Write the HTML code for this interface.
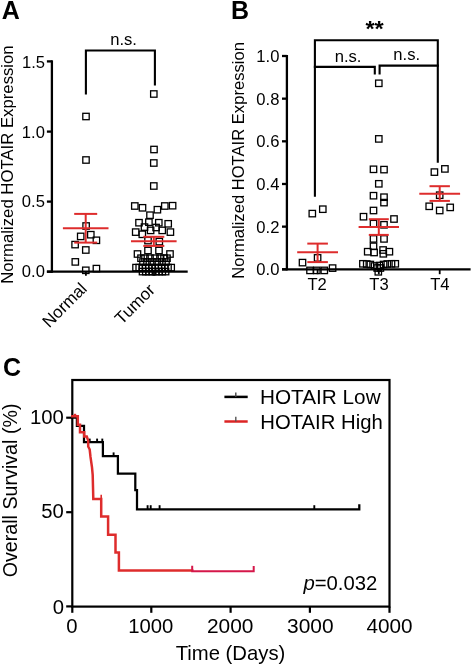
<!DOCTYPE html>
<html><head><meta charset="utf-8"><style>
html,body{margin:0;padding:0;background:#fff;}
svg{display:block;will-change:transform;}
text{font-family:"Liberation Sans", sans-serif;fill:#000;}
</style></head><body>
<svg width="472" height="666" viewBox="0 0 472 666">
<rect width="472" height="666" fill="#fff"/>
<text transform="translate(1.65,19.3) rotate(0) scale(1.0,1.04)" font-size="25" font-weight="bold" font-style="normal">A</text>
<text transform="translate(12.9,283.85) rotate(-90) scale(1.008,1.0)" font-size="16.6" font-weight="normal" font-style="normal">Normalized HOTAIR Expression</text>
<text transform="translate(21.9,67.55) rotate(0) scale(1.0,1.0)" font-size="16.6" font-weight="normal" font-style="normal">1.5</text>
<text transform="translate(21.8,137.75) rotate(0) scale(1.0,1.0)" font-size="16.6" font-weight="normal" font-style="normal">1.0</text>
<text transform="translate(21.85,207.05) rotate(0) scale(1.0,1.0)" font-size="16.6" font-weight="normal" font-style="normal">0.5</text>
<text transform="translate(21.85,277.05) rotate(0) scale(1.0,1.0)" font-size="16.6" font-weight="normal" font-style="normal">0.0</text>
<line x1="51.90" y1="60.30" x2="51.90" y2="272.80" stroke="#000" stroke-width="2.3"/>
<line x1="46.90" y1="271.70" x2="51.90" y2="271.70" stroke="#000" stroke-width="2.3"/>
<line x1="46.90" y1="201.60" x2="51.90" y2="201.60" stroke="#000" stroke-width="2.3"/>
<line x1="46.90" y1="131.60" x2="51.90" y2="131.60" stroke="#000" stroke-width="2.3"/>
<line x1="46.90" y1="61.40" x2="51.90" y2="61.40" stroke="#000" stroke-width="2.3"/>
<line x1="46.90" y1="271.70" x2="187.70" y2="271.70" stroke="#000" stroke-width="2.3"/>
<line x1="85.90" y1="271.70" x2="85.90" y2="275.80" stroke="#000" stroke-width="1.8"/>
<line x1="154.00" y1="271.70" x2="154.00" y2="275.80" stroke="#000" stroke-width="1.8"/>
<text transform="translate(87.9,289.7) rotate(-45)" font-size="17" text-anchor="end">Normal</text>
<text transform="translate(156,291) rotate(-45)" font-size="17" text-anchor="end">Tumor</text>
<path d="M85.9,93.5 V50.5 H154.9 V84.5" fill="none" stroke="#000" stroke-width="2.1" stroke-linejoin="miter" stroke-linecap="square"/>
<text transform="translate(110.15,45.35) rotate(0) scale(1.0,1.0)" font-size="16.6" font-weight="normal" font-style="normal">n.s.</text>
<rect x="82.80" y="113.30" width="6.4" height="6.4" fill="none" stroke="#000" stroke-width="1.3"/>
<rect x="82.80" y="156.80" width="6.4" height="6.4" fill="none" stroke="#000" stroke-width="1.3"/>
<rect x="82.90" y="222.80" width="6.4" height="6.4" fill="none" stroke="#000" stroke-width="1.3"/>
<rect x="77.50" y="233.20" width="6.4" height="6.4" fill="none" stroke="#000" stroke-width="1.3"/>
<rect x="87.60" y="231.50" width="6.4" height="6.4" fill="none" stroke="#000" stroke-width="1.3"/>
<rect x="93.20" y="237.10" width="6.4" height="6.4" fill="none" stroke="#000" stroke-width="1.3"/>
<rect x="71.90" y="241.40" width="6.4" height="6.4" fill="none" stroke="#000" stroke-width="1.3"/>
<rect x="82.60" y="246.80" width="6.4" height="6.4" fill="none" stroke="#000" stroke-width="1.3"/>
<rect x="72.10" y="258.70" width="6.4" height="6.4" fill="none" stroke="#000" stroke-width="1.3"/>
<rect x="82.60" y="267.10" width="6.4" height="6.4" fill="none" stroke="#000" stroke-width="1.3"/>
<rect x="93.20" y="265.40" width="6.4" height="6.4" fill="none" stroke="#000" stroke-width="1.3"/>
<rect x="150.60" y="90.80" width="6.4" height="6.4" fill="none" stroke="#000" stroke-width="1.3"/>
<rect x="150.80" y="146.30" width="6.4" height="6.4" fill="none" stroke="#000" stroke-width="1.3"/>
<rect x="150.60" y="159.80" width="6.4" height="6.4" fill="none" stroke="#000" stroke-width="1.3"/>
<rect x="150.60" y="182.80" width="6.4" height="6.4" fill="none" stroke="#000" stroke-width="1.3"/>
<rect x="131.60" y="202.80" width="6.4" height="6.4" fill="none" stroke="#000" stroke-width="1.3"/>
<rect x="139.30" y="204.60" width="6.4" height="6.4" fill="none" stroke="#000" stroke-width="1.3"/>
<rect x="146.80" y="212.00" width="6.4" height="6.4" fill="none" stroke="#000" stroke-width="1.3"/>
<rect x="154.20" y="206.50" width="6.4" height="6.4" fill="none" stroke="#000" stroke-width="1.3"/>
<rect x="161.60" y="202.80" width="6.4" height="6.4" fill="none" stroke="#000" stroke-width="1.3"/>
<rect x="169.40" y="202.50" width="6.4" height="6.4" fill="none" stroke="#000" stroke-width="1.3"/>
<rect x="135.80" y="219.50" width="6.4" height="6.4" fill="none" stroke="#000" stroke-width="1.3"/>
<rect x="145.70" y="219.00" width="6.4" height="6.4" fill="none" stroke="#000" stroke-width="1.3"/>
<rect x="155.60" y="219.50" width="6.4" height="6.4" fill="none" stroke="#000" stroke-width="1.3"/>
<rect x="165.00" y="220.60" width="6.4" height="6.4" fill="none" stroke="#000" stroke-width="1.3"/>
<rect x="141.30" y="223.90" width="6.4" height="6.4" fill="none" stroke="#000" stroke-width="1.3"/>
<rect x="152.90" y="224.30" width="6.4" height="6.4" fill="none" stroke="#000" stroke-width="1.3"/>
<rect x="132.50" y="228.90" width="6.4" height="6.4" fill="none" stroke="#000" stroke-width="1.3"/>
<rect x="139.10" y="231.10" width="6.4" height="6.4" fill="none" stroke="#000" stroke-width="1.3"/>
<rect x="147.40" y="227.20" width="6.4" height="6.4" fill="none" stroke="#000" stroke-width="1.3"/>
<rect x="159.00" y="227.20" width="6.4" height="6.4" fill="none" stroke="#000" stroke-width="1.3"/>
<rect x="167.20" y="228.90" width="6.4" height="6.4" fill="none" stroke="#000" stroke-width="1.3"/>
<rect x="144.80" y="237.40" width="6.4" height="6.4" fill="none" stroke="#000" stroke-width="1.3"/>
<rect x="156.10" y="238.40" width="6.4" height="6.4" fill="none" stroke="#000" stroke-width="1.3"/>
<rect x="144.80" y="247.30" width="6.4" height="6.4" fill="none" stroke="#000" stroke-width="1.3"/>
<rect x="155.80" y="247.30" width="6.4" height="6.4" fill="none" stroke="#000" stroke-width="1.3"/>
<rect x="134.30" y="250.80" width="6.4" height="6.4" fill="none" stroke="#000" stroke-width="1.3"/>
<rect x="166.80" y="250.80" width="6.4" height="6.4" fill="none" stroke="#000" stroke-width="1.3"/>
<rect x="137.80" y="255.00" width="6.4" height="6.4" fill="none" stroke="#000" stroke-width="1.3"/>
<rect x="141.80" y="255.00" width="6.4" height="6.4" fill="none" stroke="#000" stroke-width="1.3"/>
<rect x="146.80" y="255.00" width="6.4" height="6.4" fill="none" stroke="#000" stroke-width="1.3"/>
<rect x="151.80" y="255.00" width="6.4" height="6.4" fill="none" stroke="#000" stroke-width="1.3"/>
<rect x="156.80" y="255.00" width="6.4" height="6.4" fill="none" stroke="#000" stroke-width="1.3"/>
<rect x="160.80" y="255.00" width="6.4" height="6.4" fill="none" stroke="#000" stroke-width="1.3"/>
<rect x="163.80" y="255.00" width="6.4" height="6.4" fill="none" stroke="#000" stroke-width="1.3"/>
<rect x="139.80" y="258.80" width="6.4" height="6.4" fill="none" stroke="#000" stroke-width="1.3"/>
<rect x="143.80" y="258.80" width="6.4" height="6.4" fill="none" stroke="#000" stroke-width="1.3"/>
<rect x="148.80" y="258.80" width="6.4" height="6.4" fill="none" stroke="#000" stroke-width="1.3"/>
<rect x="153.80" y="258.80" width="6.4" height="6.4" fill="none" stroke="#000" stroke-width="1.3"/>
<rect x="158.80" y="258.80" width="6.4" height="6.4" fill="none" stroke="#000" stroke-width="1.3"/>
<rect x="162.80" y="258.80" width="6.4" height="6.4" fill="none" stroke="#000" stroke-width="1.3"/>
<rect x="132.80" y="264.40" width="6.4" height="6.4" fill="none" stroke="#000" stroke-width="1.3"/>
<rect x="136.00" y="264.40" width="6.4" height="6.4" fill="none" stroke="#000" stroke-width="1.3"/>
<rect x="139.20" y="264.40" width="6.4" height="6.4" fill="none" stroke="#000" stroke-width="1.3"/>
<rect x="142.40" y="264.40" width="6.4" height="6.4" fill="none" stroke="#000" stroke-width="1.3"/>
<rect x="145.60" y="264.40" width="6.4" height="6.4" fill="none" stroke="#000" stroke-width="1.3"/>
<rect x="148.80" y="264.40" width="6.4" height="6.4" fill="none" stroke="#000" stroke-width="1.3"/>
<rect x="152.00" y="264.40" width="6.4" height="6.4" fill="none" stroke="#000" stroke-width="1.3"/>
<rect x="155.20" y="264.40" width="6.4" height="6.4" fill="none" stroke="#000" stroke-width="1.3"/>
<rect x="158.40" y="264.40" width="6.4" height="6.4" fill="none" stroke="#000" stroke-width="1.3"/>
<rect x="161.60" y="264.40" width="6.4" height="6.4" fill="none" stroke="#000" stroke-width="1.3"/>
<rect x="164.80" y="264.40" width="6.4" height="6.4" fill="none" stroke="#000" stroke-width="1.3"/>
<rect x="168.00" y="264.40" width="6.4" height="6.4" fill="none" stroke="#000" stroke-width="1.3"/>
<rect x="139.30" y="268.40" width="6.4" height="6.4" fill="none" stroke="#000" stroke-width="1.3"/>
<rect x="142.60" y="268.40" width="6.4" height="6.4" fill="none" stroke="#000" stroke-width="1.3"/>
<rect x="145.90" y="268.40" width="6.4" height="6.4" fill="none" stroke="#000" stroke-width="1.3"/>
<rect x="149.20" y="268.40" width="6.4" height="6.4" fill="none" stroke="#000" stroke-width="1.3"/>
<rect x="152.50" y="268.40" width="6.4" height="6.4" fill="none" stroke="#000" stroke-width="1.3"/>
<rect x="155.80" y="268.40" width="6.4" height="6.4" fill="none" stroke="#000" stroke-width="1.3"/>
<rect x="159.10" y="268.40" width="6.4" height="6.4" fill="none" stroke="#000" stroke-width="1.3"/>
<rect x="162.40" y="268.40" width="6.4" height="6.4" fill="none" stroke="#000" stroke-width="1.3"/>
<line x1="62.90" y1="228.30" x2="108.50" y2="228.30" stroke="#de2c2c" stroke-width="2"/>
<line x1="74.20" y1="213.90" x2="97.20" y2="213.90" stroke="#de2c2c" stroke-width="2"/>
<line x1="74.20" y1="242.60" x2="97.20" y2="242.60" stroke="#de2c2c" stroke-width="2"/>
<line x1="85.70" y1="213.90" x2="85.70" y2="242.60" stroke="#de2c2c" stroke-width="2"/>
<line x1="131.00" y1="241.30" x2="176.60" y2="241.30" stroke="#de2c2c" stroke-width="2"/>
<line x1="143.30" y1="236.80" x2="164.30" y2="236.80" stroke="#de2c2c" stroke-width="2"/>
<line x1="143.30" y1="245.90" x2="164.30" y2="245.90" stroke="#de2c2c" stroke-width="2"/>
<line x1="153.80" y1="236.80" x2="153.80" y2="245.90" stroke="#de2c2c" stroke-width="2"/>
<text transform="translate(230.9,19.3) rotate(0) scale(1.0,1.04)" font-size="25" font-weight="bold" font-style="normal">B</text>
<text transform="translate(244.3,278.8) rotate(-90) scale(1.0,1.0)" font-size="16.6" font-weight="normal" font-style="normal">Normalized HOTAIR Expression</text>
<line x1="286.90" y1="55.00" x2="286.90" y2="270.40" stroke="#000" stroke-width="2.3"/>
<line x1="282.00" y1="269.30" x2="286.90" y2="269.30" stroke="#000" stroke-width="2.3"/>
<line x1="282.00" y1="226.64" x2="286.90" y2="226.64" stroke="#000" stroke-width="2.3"/>
<line x1="282.00" y1="183.98" x2="286.90" y2="183.98" stroke="#000" stroke-width="2.3"/>
<line x1="282.00" y1="141.32" x2="286.90" y2="141.32" stroke="#000" stroke-width="2.3"/>
<line x1="282.00" y1="98.66" x2="286.90" y2="98.66" stroke="#000" stroke-width="2.3"/>
<line x1="282.00" y1="56.00" x2="286.90" y2="56.00" stroke="#000" stroke-width="2.3"/>
<line x1="282.00" y1="269.30" x2="470.60" y2="269.30" stroke="#000" stroke-width="2.3"/>
<text transform="translate(279.4,275.30)" font-size="16.6" text-anchor="end">0.0</text>
<text transform="translate(279.4,232.64)" font-size="16.6" text-anchor="end">0.2</text>
<text transform="translate(279.4,189.98)" font-size="16.6" text-anchor="end">0.4</text>
<text transform="translate(279.4,147.32)" font-size="16.6" text-anchor="end">0.6</text>
<text transform="translate(279.4,104.66)" font-size="16.6" text-anchor="end">0.8</text>
<text transform="translate(279.4,62.00)" font-size="16.6" text-anchor="end">1.0</text>
<line x1="317.60" y1="269.30" x2="317.60" y2="274.20" stroke="#000" stroke-width="1.8"/>
<line x1="378.80" y1="269.30" x2="378.80" y2="274.20" stroke="#000" stroke-width="1.8"/>
<line x1="439.70" y1="269.30" x2="439.70" y2="274.20" stroke="#000" stroke-width="1.8"/>
<text transform="translate(307.45,289.75) rotate(0) scale(1.0,1.0)" font-size="16.6" font-weight="normal" font-style="normal">T2</text>
<text transform="translate(369.25,289.75) rotate(0) scale(1.0,1.0)" font-size="16.6" font-weight="normal" font-style="normal">T3</text>
<text transform="translate(430.2,289.75) rotate(0) scale(1.0,1.0)" font-size="16.6" font-weight="normal" font-style="normal">T4</text>
<path d="M314.9,195.7 V40.2 H437.8 V161.6" fill="none" stroke="#000" stroke-width="2.1" stroke-linejoin="miter" stroke-linecap="square"/>
<path d="M314.9,66.9 H374.8 V73.4" fill="none" stroke="#000" stroke-width="2.1" stroke-linejoin="miter" stroke-linecap="square"/>
<path d="M379.6,73.4 V65.6 H437.8" fill="none" stroke="#000" stroke-width="2.1" stroke-linejoin="miter" stroke-linecap="square"/>
<text transform="translate(365.4,36.0) rotate(0) scale(1.07,1.0)" font-size="22" font-weight="bold" font-style="normal">**</text>
<text transform="translate(334.7,62.3) rotate(0) scale(1.0,1.0)" font-size="16.6" font-weight="normal" font-style="normal">n.s.</text>
<text transform="translate(393.3,60.35) rotate(0) scale(1.0,1.0)" font-size="16.6" font-weight="normal" font-style="normal">n.s.</text>
<rect x="309.10" y="210.40" width="6.4" height="6.4" fill="none" stroke="#000" stroke-width="1.3"/>
<rect x="319.60" y="206.00" width="6.4" height="6.4" fill="none" stroke="#000" stroke-width="1.3"/>
<rect x="314.40" y="254.70" width="6.4" height="6.4" fill="none" stroke="#000" stroke-width="1.3"/>
<rect x="299.30" y="259.40" width="6.4" height="6.4" fill="none" stroke="#000" stroke-width="1.3"/>
<rect x="306.80" y="267.20" width="6.4" height="6.4" fill="none" stroke="#000" stroke-width="1.3"/>
<rect x="313.60" y="267.20" width="6.4" height="6.4" fill="none" stroke="#000" stroke-width="1.3"/>
<rect x="321.10" y="267.20" width="6.4" height="6.4" fill="none" stroke="#000" stroke-width="1.3"/>
<rect x="329.40" y="264.90" width="6.4" height="6.4" fill="none" stroke="#000" stroke-width="1.3"/>
<rect x="375.60" y="80.10" width="6.4" height="6.4" fill="none" stroke="#000" stroke-width="1.3"/>
<rect x="375.60" y="135.70" width="6.4" height="6.4" fill="none" stroke="#000" stroke-width="1.3"/>
<rect x="370.30" y="166.10" width="6.4" height="6.4" fill="none" stroke="#000" stroke-width="1.3"/>
<rect x="380.80" y="166.40" width="6.4" height="6.4" fill="none" stroke="#000" stroke-width="1.3"/>
<rect x="375.60" y="180.60" width="6.4" height="6.4" fill="none" stroke="#000" stroke-width="1.3"/>
<rect x="370.30" y="192.50" width="6.4" height="6.4" fill="none" stroke="#000" stroke-width="1.3"/>
<rect x="380.80" y="194.00" width="6.4" height="6.4" fill="none" stroke="#000" stroke-width="1.3"/>
<rect x="380.80" y="199.40" width="6.4" height="6.4" fill="none" stroke="#000" stroke-width="1.3"/>
<rect x="370.30" y="207.30" width="6.4" height="6.4" fill="none" stroke="#000" stroke-width="1.3"/>
<rect x="360.30" y="213.50" width="6.4" height="6.4" fill="none" stroke="#000" stroke-width="1.3"/>
<rect x="390.80" y="215.80" width="6.4" height="6.4" fill="none" stroke="#000" stroke-width="1.3"/>
<rect x="370.30" y="220.40" width="6.4" height="6.4" fill="none" stroke="#000" stroke-width="1.3"/>
<rect x="380.80" y="221.60" width="6.4" height="6.4" fill="none" stroke="#000" stroke-width="1.3"/>
<rect x="370.30" y="235.70" width="6.4" height="6.4" fill="none" stroke="#000" stroke-width="1.3"/>
<rect x="380.80" y="235.70" width="6.4" height="6.4" fill="none" stroke="#000" stroke-width="1.3"/>
<rect x="370.30" y="243.10" width="6.4" height="6.4" fill="none" stroke="#000" stroke-width="1.3"/>
<rect x="364.50" y="248.50" width="6.4" height="6.4" fill="none" stroke="#000" stroke-width="1.3"/>
<rect x="370.90" y="249.30" width="6.4" height="6.4" fill="none" stroke="#000" stroke-width="1.3"/>
<rect x="379.90" y="246.80" width="6.4" height="6.4" fill="none" stroke="#000" stroke-width="1.3"/>
<rect x="380.10" y="250.60" width="6.4" height="6.4" fill="none" stroke="#000" stroke-width="1.3"/>
<rect x="386.20" y="248.50" width="6.4" height="6.4" fill="none" stroke="#000" stroke-width="1.3"/>
<rect x="359.70" y="260.60" width="6.4" height="6.4" fill="none" stroke="#000" stroke-width="1.3"/>
<rect x="363.50" y="260.80" width="6.4" height="6.4" fill="none" stroke="#000" stroke-width="1.3"/>
<rect x="367.20" y="261.30" width="6.4" height="6.4" fill="none" stroke="#000" stroke-width="1.3"/>
<rect x="371.40" y="262.80" width="6.4" height="6.4" fill="none" stroke="#000" stroke-width="1.3"/>
<rect x="376.20" y="262.30" width="6.4" height="6.4" fill="none" stroke="#000" stroke-width="1.3"/>
<rect x="380.40" y="261.30" width="6.4" height="6.4" fill="none" stroke="#000" stroke-width="1.3"/>
<rect x="384.10" y="260.80" width="6.4" height="6.4" fill="none" stroke="#000" stroke-width="1.3"/>
<rect x="388.30" y="260.60" width="6.4" height="6.4" fill="none" stroke="#000" stroke-width="1.3"/>
<rect x="392.10" y="260.60" width="6.4" height="6.4" fill="none" stroke="#000" stroke-width="1.3"/>
<rect x="374.00" y="264.80" width="6.4" height="6.4" fill="none" stroke="#000" stroke-width="1.3"/>
<rect x="377.20" y="264.80" width="6.4" height="6.4" fill="none" stroke="#000" stroke-width="1.3"/>
<rect x="375.10" y="268.60" width="6.4" height="6.4" fill="none" stroke="#000" stroke-width="1.3"/>
<rect x="431.20" y="168.90" width="6.4" height="6.4" fill="none" stroke="#000" stroke-width="1.3"/>
<rect x="441.70" y="165.70" width="6.4" height="6.4" fill="none" stroke="#000" stroke-width="1.3"/>
<rect x="436.50" y="192.00" width="6.4" height="6.4" fill="none" stroke="#000" stroke-width="1.3"/>
<rect x="426.00" y="203.10" width="6.4" height="6.4" fill="none" stroke="#000" stroke-width="1.3"/>
<rect x="436.50" y="207.30" width="6.4" height="6.4" fill="none" stroke="#000" stroke-width="1.3"/>
<rect x="447.00" y="204.20" width="6.4" height="6.4" fill="none" stroke="#000" stroke-width="1.3"/>
<line x1="297.20" y1="252.30" x2="338.00" y2="252.30" stroke="#de2c2c" stroke-width="2"/>
<line x1="307.30" y1="243.60" x2="327.90" y2="243.60" stroke="#de2c2c" stroke-width="2"/>
<line x1="307.30" y1="262.10" x2="327.90" y2="262.10" stroke="#de2c2c" stroke-width="2"/>
<line x1="317.60" y1="243.60" x2="317.60" y2="262.10" stroke="#de2c2c" stroke-width="2"/>
<line x1="358.60" y1="227.10" x2="399.00" y2="227.10" stroke="#de2c2c" stroke-width="2"/>
<line x1="368.80" y1="219.20" x2="388.80" y2="219.20" stroke="#de2c2c" stroke-width="2"/>
<line x1="368.80" y1="234.90" x2="388.80" y2="234.90" stroke="#de2c2c" stroke-width="2"/>
<line x1="378.80" y1="219.20" x2="378.80" y2="234.90" stroke="#de2c2c" stroke-width="2"/>
<line x1="419.30" y1="193.70" x2="460.10" y2="193.70" stroke="#de2c2c" stroke-width="2"/>
<line x1="429.50" y1="186.20" x2="449.90" y2="186.20" stroke="#de2c2c" stroke-width="2"/>
<line x1="429.50" y1="200.90" x2="449.90" y2="200.90" stroke="#de2c2c" stroke-width="2"/>
<line x1="439.70" y1="186.20" x2="439.70" y2="200.90" stroke="#de2c2c" stroke-width="2"/>
<text transform="translate(3.05,375.6) rotate(0) scale(1.0,1.04)" font-size="25" font-weight="bold" font-style="normal">C</text>
<text transform="translate(17.2,577.35) rotate(-90) scale(0.97,1.0)" font-size="20.3" font-weight="normal" font-style="normal">Overall Survival (%)</text>
<text transform="translate(29.9,423.95) rotate(0) scale(1.0,1.0)" font-size="20.3" font-weight="normal" font-style="normal">100</text>
<text transform="translate(41.15,518.45) rotate(0) scale(1.0,1.0)" font-size="20.3" font-weight="normal" font-style="normal">50</text>
<text transform="translate(52.75,613.6) rotate(0) scale(1.0,1.0)" font-size="20.3" font-weight="normal" font-style="normal">0</text>
<text transform="translate(66.2,632.85) rotate(0) scale(1.0,1.0)" font-size="20.3" font-weight="normal" font-style="normal">0</text>
<text transform="translate(128.25,632.8) rotate(0) scale(1.0,1.0)" font-size="20.3" font-weight="normal" font-style="normal">1000</text>
<text transform="translate(206.95,632.8) rotate(0) scale(1.03,1.0)" font-size="20.3" font-weight="normal" font-style="normal">2000</text>
<text transform="translate(287.05,632.8) rotate(0) scale(1.03,1.0)" font-size="20.3" font-weight="normal" font-style="normal">3000</text>
<text transform="translate(366.45,632.9) rotate(0) scale(1.02,1.0)" font-size="20.3" font-weight="normal" font-style="normal">4000</text>
<text transform="translate(175.65,660.15) rotate(0) scale(1.0,1.0)" font-size="20.3" font-weight="normal" font-style="normal">Time (Days)</text>
<text transform="translate(260.0,403.7) rotate(0) scale(1.022,1.0)" font-size="20.3" font-weight="normal" font-style="normal">HOTAIR Low</text>
<text transform="translate(260.25,428.95) rotate(0) scale(1.0,1.0)" font-size="20.3" font-weight="normal" font-style="normal">HOTAIR High</text>
<text transform="translate(303.4,590.05) rotate(0) scale(1.0,1.0)" font-size="20.3" font-weight="normal" font-style="normal"><tspan font-style="italic">p</tspan>=0.032</text>
<rect x="72.3" y="380.0" width="317.2" height="226.60000000000002" fill="none" stroke="#000" stroke-width="2.2"/>
<line x1="66.20" y1="417.70" x2="72.30" y2="417.70" stroke="#000" stroke-width="2.2"/>
<line x1="66.20" y1="512.20" x2="72.30" y2="512.20" stroke="#000" stroke-width="2.2"/>
<line x1="66.20" y1="606.40" x2="72.30" y2="606.40" stroke="#000" stroke-width="2.2"/>
<line x1="72.30" y1="606.60" x2="72.30" y2="612.80" stroke="#000" stroke-width="2.2"/>
<line x1="151.30" y1="606.60" x2="151.30" y2="612.80" stroke="#000" stroke-width="2.2"/>
<line x1="230.60" y1="606.60" x2="230.60" y2="612.80" stroke="#000" stroke-width="2.2"/>
<line x1="309.90" y1="606.60" x2="309.90" y2="612.80" stroke="#000" stroke-width="2.2"/>
<line x1="389.50" y1="606.60" x2="389.50" y2="612.80" stroke="#000" stroke-width="2.2"/>
<line x1="224.40" y1="396.90" x2="247.70" y2="396.90" stroke="#000" stroke-width="2.5"/>
<line x1="235.80" y1="392.60" x2="235.80" y2="396.90" stroke="#444" stroke-width="1.4"/>
<line x1="224.40" y1="421.50" x2="247.70" y2="421.50" stroke="#dc2424" stroke-width="2.5"/>
<line x1="235.80" y1="416.80" x2="235.80" y2="421.50" stroke="#555" stroke-width="1.4"/>
<path d="M72.4,417.6 H76.9 V425.8 H84 V442.2 H102.9 V456 H117.9 V473.5 H135.3 V490 H137 V509.4 H359.3 V505.3" fill="none" stroke="#000" stroke-width="2.25" stroke-linejoin="miter" stroke-linecap="square"/>
<line x1="89.70" y1="442.20" x2="89.70" y2="438.60" stroke="#000" stroke-width="1.9"/>
<line x1="97.10" y1="442.20" x2="97.10" y2="438.60" stroke="#000" stroke-width="1.9"/>
<line x1="102.30" y1="442.20" x2="102.30" y2="438.60" stroke="#000" stroke-width="1.9"/>
<line x1="113.60" y1="456.00" x2="113.60" y2="452.40" stroke="#000" stroke-width="1.9"/>
<line x1="147.60" y1="509.40" x2="147.60" y2="505.20" stroke="#000" stroke-width="1.9"/>
<line x1="150.70" y1="509.40" x2="150.70" y2="505.20" stroke="#000" stroke-width="1.9"/>
<line x1="159.60" y1="509.40" x2="159.60" y2="505.20" stroke="#000" stroke-width="1.9"/>
<line x1="314.30" y1="509.40" x2="314.30" y2="505.20" stroke="#000" stroke-width="1.9"/>
<path d="M72.4,416.2 H77.8 V424.8 H80 V432.2 H84.2 V436.5 H86.8 L88.2,440.6 V446.5 L89.7,449.5 L90.5,456.9 L92,467.3 L92.7,475 L93.3,498.9 H101.2 V516.6 H108.1 V534.7 H115.5 V552.5 H118.9 V570.4 H192.2" fill="none" stroke="#de2c2c" stroke-width="2.5" stroke-linejoin="miter" stroke-linecap="square"/>
<line x1="101.20" y1="498.90" x2="101.20" y2="494.70" stroke="#de2c2c" stroke-width="1.6"/>
<line x1="75.00" y1="416.20" x2="75.00" y2="413.80" stroke="#de2c2c" stroke-width="2.4"/>
<path d="M192.2,566.8 V571.3 H253.7 V567.1" fill="none" stroke="#d5174a" stroke-width="2" stroke-linejoin="miter" stroke-linecap="square"/>
</svg>
</body></html>
